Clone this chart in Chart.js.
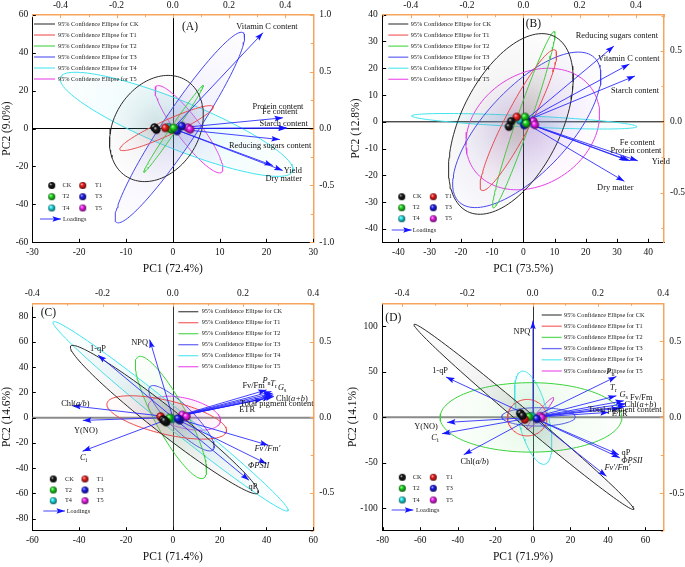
<!DOCTYPE html>
<html><head><meta charset="utf-8">
<script src="https://cdn.jsdelivr.net/npm/chart.js@4/dist/chart.umd.min.js"></script>
<style>
html,body{margin:0;padding:0;background:#fff;}
body{width:685px;height:567px;position:relative;overflow:hidden;}
canvas{position:absolute;}
</style></head><body>
<canvas id="cA" width="340" height="283" style="left:0px;top:0px"></canvas>
<canvas id="cB" width="345" height="283" style="left:340px;top:0px"></canvas>
<canvas id="cC" width="340" height="284" style="left:0px;top:283px"></canvas>
<canvas id="cD" width="345" height="284" style="left:340px;top:283px"></canvas>
<script>
// ======================= DATA =======================
const GROUPS = ['CK','T1','T2','T3','T4','T5'];

// ---- Panel A ----
const A_xTicks = [-30,-20,-10,0,10,20,30];
const A_yTicks = [-60,-40,-20,0,20,40,60];
const A_x2Ticks = [-0.5,-0.4,-0.3,-0.2,-0.1,0,0.1,0.2,0.3,0.4,0.5];
const A_x2Labels = [-0.4,-0.2,0,0.2,0.4];
const A_y2Ticks = [-1,-0.75,-0.5,-0.25,0,0.25,0.5,0.75,1];
const A_y2Labels = [-1,-0.5,0,0.5,1];
const A_scores = [
  [[-3.9,0.5],[-3.5,-0.6]],
  [[-1.6,0.3]],
  [[-0.3,-0.5],[0.2,0.3]],
  [[1.9,1.3],[0.9,-1.3]],
  [[-0.9,0.6]],
  [[3.2,0.4],[3.7,-0.4]]
];
// ellipse: [cx, cy, ax, ay, bx, by] (centre and two conjugate semi-axes, PC units)
const A_ellipses = [
  [-3.5,0,9.7,0,2.5,28],
  [-1.35,0.2,9.95,11.3,0.67,-3.6],
  [0.15,-0.2,6.35,22.9,0.53,-0.89],
  [1.5,0.5,13.5,50,3.02,-4.97],
  [0.8,2.2,24.8,-24.8,-1.89,-11.78],
  [3.45,-0.4,6.95,-22.7,2.04,3.82]
];
const A_loadNames = ['Vitamin C content','Protein content','Fe content','Starch content','Reducing sugars content','Yield','Dry matter'];
const A_loadX = [0.321,0.392,0.405,0.407,0.381,0.356,0.391];
const A_loadY = [0.842,0.094,0.006,0.002,-0.097,-0.325,-0.369];

// ---- Panel B ----
const B_xTicks = [-40,-30,-20,-10,0,10,20,30,40];
const B_yTicks = [-40,-30,-20,-10,0,10,20,30,40];
const B_x2Ticks = [-0.5,-0.4,-0.3,-0.2,-0.1,0,0.1,0.2,0.3,0.4,0.5];
const B_x2Labels = [-0.4,-0.2,0,0.2,0.4];
const B_y2Ticks = [-0.75,-0.5,-0.25,0,0.25,0.5,0.75];
const B_y2Labels = [-0.5,0,0.5];
const B_scores = [
  [[-3.9,0.2],[-4.6,-1.8]],
  [[-2.1,1.8]],
  [[0.5,1.8],[0.9,-0.6]],
  [[0.3,-1.2],[1.0,0.4]],
  [[-1.1,0.6]],
  [[3.2,0.2],[3.7,-1.1]]
];
const B_ellipses = [
  [-4,-0.8,13.9,32.7,14.3,-8.3],
  [-1.6,0.6,11.7,26.2,3.6,-2.18],
  [0.15,0.75,9.75,32.95,2.12,-0.85],
  [1.1,-3.0,21.6,27.0,9.8,-10.7],
  [0.3,0.2,36,-2.0,0.1,2.1],
  [3.0,-2.7,20.8,0,5.0,22.7]
];
const B_loadNames = ['Reducing sugars content','Vitamin C content','Starch content','Fe content','Protein content','Yield','Dry matter'];
const B_loadX = [0.322,0.377,0.397,0.370,0.379,0.407,0.359];
const B_loadY = [0.535,0.408,0.324,-0.272,-0.275,-0.275,-0.420];

// ---- Panel C ----
const C_xTicks = [-60,-40,-20,0,20,40,60];
const C_yTicks = [-80,-60,-40,-20,0,20,40,60,80];
const C_x2Ticks = [-0.4,-0.3,-0.2,-0.1,0,0.1,0.2,0.3,0.4];
const C_x2Labels = [-0.4,-0.2,0,0.2,0.4];
const C_y2Ticks = [-0.75,-0.5,-0.25,0,0.25,0.5,0.75];
const C_y2Labels = [-0.5,0,0.5];
const C_scores = [
  [[-4.2,-1.5],[-2.8,-3.5],[-3.5,-2.5]],
  [[-5.2,0.8]],
  [[-1.3,-0.3]],
  [[3.0,-2.0],[2.2,-0.8]],
  [[-0.3,-1.0]],
  [[4.1,2.1],[5.8,0.8]]
];
const C_ellipses = [
  [-3.6,-1.55,40,-58.2,-3.4,-8.1],
  [-2.6,0.15,25.5,-11.25,-1.67,-12.97],
  [-0.8,0.15,14,-48.05,-6.0,-6.0],
  [3.7,-0.5,13.5,-25,-3.6,-6.7],
  [-0.95,1.05,50.15,-74.75,-2.7,-6.2],
  [5.0,3.5,15.3,-7.0,-1.54,-11.5]
];
const C_loadNames = ['NPQ','1-qP','Chl(a/b)','Y(NO)','Ci','Fv/Fm','Pn','Tr','Gs','Chl(a+b)','Total pigment content','ETR',"Fv'/Fm'",'ΦPSII','qP'];
const C_loadX = [-0.066,-0.213,-0.286,-0.256,-0.257,0.267,0.281,0.284,0.286,0.288,0.279,0.257,0.272,0.267,0.217];
const C_loadY = [0.515,0.413,0.077,-0.020,-0.224,0.182,0.171,0.160,0.149,0.138,0.134,0.121,-0.184,-0.307,-0.416];

// ---- Panel D ----
const D_xTicks = [-80,-60,-40,-20,0,20,40,60];
const D_yTicks = [-100,-50,0,50,100];
const D_x2Ticks = [-0.4,-0.3,-0.2,-0.1,0,0.1,0.2,0.3,0.4];
const D_x2Labels = [-0.4,-0.2,0,0.2,0.4];
const D_y2Ticks = [-0.75,-0.5,-0.25,0,0.25,0.5,0.75];
const D_y2Labels = [-0.5,0,0.5];
const D_scores = [
  [[-6.7,4.2],[-5.5,1.5]],
  [[-4.3,-2.5]],
  [[-2.0,0.5]],
  [[2.1,-1.8]],
  [[-0.5,1.1]],
  [[3.9,1.1],[4.8,-0.7]]
];
const D_ellipses = [
  [-4.8,0.4,58.5,-101.5,-2.4,-5.9],
  [-3.0,-0.5,10.5,0,0,20],
  [-1.0,-0.2,48.4,0,0,38.1],
  [3.0,0.4,19.6,0,0,10.1],
  [0.2,-0.55,8.3,0,-5.5,51.15],
  [3.9,4.05,7.1,17.35,1.23,-2.1]
];
const D_loadNames = ['NPQ','1-qP','Y(NO)','Ci','Chl(a/b)','Pn','Tr','Gs','Fv/Fm','Chl(a+b)','Total pigment content','ETR','qP','ΦPSII',"Fv'/Fm'"];
const D_loadX = [0.001,-0.265,-0.262,-0.2775,-0.211,0.2565,0.2565,0.279,0.285,0.285,0.267,0.233,0.264,0.267,0.226];
const D_loadY = [0.636,0.265,-0.033,-0.107,-0.245,0.269,0.142,0.109,0.090,0.073,0.060,0.033,-0.245,-0.266,-0.387];

// ======================= STYLE / LAYOUT =======================
const FONT = '"Liberation Serif", "Times New Roman", serif';
const ORANGE = '#f6a55e';
const ARROW = 'rgba(35,35,255,0.85)';
const ARROW_HEAD = '#1515ff';
const LINE_COLORS = ['#2a2a2a','#f04848','#3ad23a','#4646f0','#40e4ee','#e83ce8'];
const FILL_RGB = [[120,120,130],[235,130,130],[120,220,120],[140,130,245],[90,220,230],[230,120,230]];
const BALL_RGB = [[25,25,25],[250,30,30],[30,225,30],[30,30,250],[30,235,240],[250,30,250]];

const A_labelOffsets = [[4,-6],[-5,-11],[-6.7,-15.6],[-3.5,-4.8],[-9.7,6],[20,5],[1,8]];
const B_labelOffsets = [[3,-10],[-0.6,-5.7],[0,15],[10,-18],[6,-10],[23,0.7],[-9,6.6]];
const C_labelOffsets = [[-10,3],[0,-6],[3,-2],[3,10],[1,7],[-13,-4],[-5,-11],[1,-9],[9,-7],[18,2],[6,7],[-16,11],[-1,4],[-8,2],[4,7]];
const D_labelOffsets = [[-11,11],[-6,-6],[-21,4],[-7,4],[11,7],[-6,-5],[-3,-8],[0,-6],[15.5,-5.7],[14.7,-1.5],[5,1.5],[11,1.6],[7,-2],[12,3],[11,-8]];

const RICH = {
  'Ci': [['C','i'],['i','s']],
  'Pn': [['P','i'],['n','s']],
  'Tr': [['T','i'],['r','s']],
  'Gs': [['G','i'],['s','s']],
  "Fv'/Fm'": [["Fv'/Fm'",'i']],
  'ΦPSII': [['ΦPSII','i']],
  'Chl(a+b)': [['Chl(',''],['a+b','i'],[')','']],
  'Chl(a/b)': [['Chl(',''],['a/b','i'],[')','']]
};

function rgba(c,a){return 'rgba('+c[0]+','+c[1]+','+c[2]+','+a+')';}
function makeBall(c, r){
  const cv=document.createElement('canvas'); const s=Math.ceil(r*2)+2; cv.width=cv.height=s;
  const g=cv.getContext('2d'); const m=s/2;
  const hi=[Math.round(c[0]+(255-c[0])*0.85),Math.round(c[1]+(255-c[1])*0.85),Math.round(c[2]+(255-c[2])*0.85)];
  const gr=g.createRadialGradient(m-r*0.35,m-r*0.4,r*0.05,m,m,r);
  gr.addColorStop(0,rgba(hi,1)); gr.addColorStop(0.35,rgba(c,1));
  gr.addColorStop(1,rgba([Math.round(c[0]*0.35),Math.round(c[1]*0.35),Math.round(c[2]*0.35)],1));
  g.fillStyle=gr; g.beginPath(); g.arc(m,m,r,0,Math.PI*2); g.fill();
  return cv;
}
const BALLS = BALL_RGB.map(c=>makeBall(c,4.2));
const BALLS_SMALL = BALL_RGB.map(c=>makeBall(c,3.5));

function ellipsePoints(e){
  const [cx,cy,ax,ay,bx,by]=e; const pts=[];
  for(let k=0;k<=120;k++){const t=k/120*2*Math.PI; pts.push({x:cx+ax*Math.cos(t)+bx*Math.sin(t), y:cy+ay*Math.cos(t)+by*Math.sin(t)});}
  return pts;
}
function ellipseFill(ctx,e,g){
  const ch=ctx.chart;
  if(!ch.chartArea || !ch.scales.x) return 'rgba(0,0,0,0)';
  const sx=ch.scales.x, sy=ch.scales.y;
  const px=sx.getPixelForValue(e[0]), py=sy.getPixelForValue(e[1]);
  const ex=sx.getPixelForValue(e[0]+e[2])-px, ey=sy.getPixelForValue(e[1]+e[3])-py;
  const fx=sx.getPixelForValue(e[0]+e[4])-px, fy=sy.getPixelForValue(e[1]+e[5])-py;
  const R=Math.max(Math.hypot(ex,ey),Math.hypot(fx,fy),1);
  const gr=ch.ctx.createRadialGradient(px,py,0,px,py,R);
  gr.addColorStop(0,rgba(FILL_RGB[g],0.2)); gr.addColorStop(0.5,rgba(FILL_RGB[g],0.07)); gr.addColorStop(1,rgba(FILL_RGB[g],0.015));
  return gr;
}
function fmt1(v){const r=Math.round(v*10)/10; return (Math.abs(r)<1e-9?0:r).toFixed(1);}
function inList(v,list){return list.some(u=>Math.abs(u-v)<1e-6);}

function drawRich(ctx,text,x,y,size){
  const segs=RICH[text]||[[text,'']];
  const fonts=segs.map(s=>(s[1].includes('i')?'italic ':'')+(s[1].includes('s')?(size*0.72).toFixed(2):size)+'px '+FONT);
  let total=0; const ws=segs.map((s,k)=>{ctx.font=fonts[k]; const w=ctx.measureText(s[0]).width; total+=w; return w;});
  let cx=x-total/2; ctx.textBaseline='middle'; ctx.textAlign='left'; ctx.fillStyle='#111';
  segs.forEach((s,k)=>{ctx.font=fonts[k]; ctx.fillText(s[0],cx,y+(s[1].includes('s')?size*0.32:0)); cx+=ws[k];});
}
function drawArrowHead(ctx,x0,y0,x1,y1,L,W){
  const dx=x1-x0, dy=y1-y0, len=Math.hypot(dx,dy); if(len<0.5) return;
  const ux=dx/len, uy=dy/len;
  ctx.beginPath(); ctx.moveTo(x1,y1);
  ctx.lineTo(x1-ux*L-uy*W, y1-uy*L+ux*W);
  ctx.lineTo(x1-ux*L*0.82, y1-uy*L*0.82);
  ctx.lineTo(x1-ux*L+uy*W, y1-uy*L-ux*W);
  ctx.closePath(); ctx.fill();
}

const PANELS = [
  {id:'cA', letter:'(A)', letterPos:[190,27], xTitle:'PC1 (72.4%)', yTitle:'PC2 (9.0%)',
   xRange:[-30,30], yRange:[-60,60], x2Range:[-0.5,0.5], y2Range:[-1,1],
   xTicks:A_xTicks, yTicks:A_yTicks, x2Ticks:A_x2Ticks, x2Labels:A_x2Labels, y2Ticks:A_y2Ticks, y2Labels:A_y2Labels,
   scores:A_scores, ellipses:A_ellipses, loadNames:A_loadNames, loadX:A_loadX, loadY:A_loadY, offsets:A_labelOffsets,
   area:{l:32.3,r:313.3,t:14.7,b:242.3}, yTitlePad:0, xTitlePad:6.8, leftPad:4,
   zeroH:['#000',1], zeroV:['#000',1],
   eLeg:{x0:34,x1:55,tx:58,y0:24,dy:11}, bLeg:{c1b:51.7,c1t:62.5,c2b:82.7,c2t:95,rows:[185.5,196.7,208],ax0:40,ax1:61,ay:219,at:63}},
  {id:'cB', letter:'(B)', letterPos:[193.3,24], xTitle:'PC1 (73.5%)', yTitle:'PC2 (12.8%)',
   xRange:[-45,45], yRange:[-45,40], x2Range:[-0.5,0.5], y2Range:[-0.85,0.756],
   xTicks:B_xTicks, yTicks:B_yTicks, x2Ticks:B_x2Ticks, x2Labels:B_x2Labels, y2Ticks:B_y2Ticks, y2Labels:B_y2Labels,
   scores:B_scores, ellipses:B_ellipses, loadNames:B_loadNames, loadX:B_loadX, loadY:B_loadY, offsets:B_labelOffsets,
   area:{l:42.7,r:324,t:14.7,b:242.3}, yTitlePad:8.8, xTitlePad:6.8, leftPad:5,
   zeroH:['#000',1], zeroV:['#000',1],
   eLeg:{x0:48.3,x1:68.3,tx:70.7,y0:24,dy:11.06}, bLeg:{c1b:61.7,c1t:72.7,c2b:93.3,c2t:105,rows:[196.7,207.7,218.7],ax0:51.7,ax1:71.7,ay:230,at:72.7}},
  {id:'cC', letter:'(C)', letterPos:[48.3,30.3], xTitle:'PC1 (71.4%)', yTitle:'PC2 (14.6%)',
   xRange:[-60,60], yRange:[-89.5,90.5], x2Range:[-0.4,0.4], y2Range:[-0.75,0.755],
   xTicks:C_xTicks, yTicks:C_yTicks, x2Ticks:C_x2Ticks, x2Labels:C_x2Labels, y2Ticks:C_y2Ticks, y2Labels:C_y2Labels,
   scores:C_scores, ellipses:C_ellipses, loadNames:C_loadNames, loadX:C_loadX, loadY:C_loadY, offsets:C_labelOffsets,
   area:{l:32.3,r:313.3,t:20.3,b:247.7}, yTitlePad:0, xTitlePad:3.1, leftPad:4,
   zeroH:['#8a8a8a',2], zeroV:['#333',1],
   eLeg:{x0:178.3,x1:198.3,tx:201.7,y0:28.7,dy:11}, bLeg:{c1b:53.3,c1t:65,c2b:85,c2t:96.7,rows:[196,207,217.7],ax0:43.3,ax1:65,ay:228,at:66.7}},
  {id:'cD', letter:'(D)', letterPos:[53.3,34.7], xTitle:'PC1 (71.9%)', yTitle:'PC2 (14.1%)',
   xRange:[-80,69.5], yRange:[-124.5,125], x2Range:[-0.459,0.4], y2Range:[-0.745,0.75],
   xTicks:D_xTicks, yTicks:D_yTicks, x2Ticks:D_x2Ticks, x2Labels:D_x2Labels, y2Ticks:D_y2Ticks, y2Labels:D_y2Labels,
   scores:D_scores, ellipses:D_ellipses, loadNames:D_loadNames, loadX:D_loadX, loadY:D_loadY, offsets:D_labelOffsets,
   area:{l:42.7,r:323.3,t:20.3,b:247.7}, yTitlePad:6.1, xTitlePad:3.1, leftPad:5,
   zeroH:['#8a8a8a',2], zeroV:['#333',1],
   eLeg:{x0:201.7,x1:221.7,tx:224,y0:32,dy:11.2}, bLeg:{c1b:62.3,c1t:72.7,c2b:93.3,c2t:106,rows:[194.3,205.3,217],ax0:51.7,ax1:73.3,ay:227,at:76}}
];

// ======================= PLUGINS =======================
const zeroLines = {id:'zeroLines', beforeDatasetsDraw(chart){
  const P=chart.config.options.panel; const ctx=chart.ctx, ca=chart.chartArea;
  const y0=chart.scales.y.getPixelForValue(0), x0=chart.scales.x.getPixelForValue(0);
  ctx.save();
  ctx.strokeStyle=P.zeroH[0]; ctx.lineWidth=P.zeroH[1];
  ctx.beginPath(); ctx.moveTo(ca.left,y0); ctx.lineTo(ca.right,y0); ctx.stroke();
  ctx.strokeStyle=P.zeroV[0]; ctx.lineWidth=P.zeroV[1];
  ctx.beginPath(); ctx.moveTo(Math.round(x0)+0.5,ca.top); ctx.lineTo(Math.round(x0)+0.5,ca.bottom); ctx.stroke();
  ctx.restore();
}};
const arrowHeads = {id:'arrowHeads', afterDatasetDraw(chart,args){
  const ds=chart.data.datasets[args.index]; if(!ds.isArrow) return;
  const pts=args.meta.data; const a=pts[0], b=pts[pts.length-1];
  const ctx=chart.ctx; ctx.save(); ctx.fillStyle=ARROW_HEAD; drawArrowHead(ctx,a.x,a.y,b.x,b.y,8.5,2.8); ctx.restore();
}};
const loadLabels = {id:'loadLabels', afterDatasetsDraw(chart){
  const P=chart.config.options.panel; const ctx=chart.ctx;
  const sx=chart.scales.x2, sy=chart.scales.y2;
  ctx.save();
  P.loadNames.forEach((n,i)=>{
    const px=sx.getPixelForValue(P.loadX[i]), py=sy.getPixelForValue(P.loadY[i]);
    drawRich(ctx,n,px+P.offsets[i][0],py+P.offsets[i][1],8.4);
  });
  ctx.restore();
}};
const tickMarks = {id:'tickMarks', afterDatasetsDraw(chart){
  const ctx=chart.ctx, ca=chart.chartArea;
  ['x','y','x2','y2'].forEach(id=>{
    const s=chart.scales[id]; const sec=id.length>1;
    ctx.save(); ctx.strokeStyle=sec?ORANGE:'#000'; ctx.lineWidth=1;
    s.ticks.forEach(t=>{
      const L=(t.label===''||t.label===undefined)?2.5:3.5;
      const p=Math.round(s.getPixelForValue(t.value))+0.5;
      ctx.beginPath();
      if(s.position==='bottom'){ctx.moveTo(p,ca.bottom);ctx.lineTo(p,ca.bottom-L);}
      else if(s.position==='top'){ctx.moveTo(p,ca.top);ctx.lineTo(p,ca.top+L);}
      else if(s.position==='left'){ctx.moveTo(ca.left,p);ctx.lineTo(ca.left+L,p);}
      else {ctx.moveTo(ca.right,p);ctx.lineTo(ca.right-L,p);}
      ctx.stroke();
    });
    ctx.restore();
  });
}};
const legends = {id:'legends', afterDraw(chart){
  const P=chart.config.options.panel; const ctx=chart.ctx;
  ctx.save();
  ctx.fillStyle='#111'; ctx.font='11.5px '+FONT; ctx.textAlign='center'; ctx.textBaseline='middle';
  ctx.fillText(P.letter,P.letterPos[0],P.letterPos[1]);
  const E=P.eLeg;
  GROUPS.forEach((g,k)=>{
    const y=E.y0+k*E.dy;
    ctx.strokeStyle=LINE_COLORS[k]; ctx.globalAlpha=0.8; ctx.lineWidth=1.3;
    ctx.beginPath(); ctx.moveTo(E.x0,y); ctx.lineTo(E.x1,y); ctx.stroke();
    ctx.globalAlpha=1; ctx.fillStyle='#222'; ctx.font='6.3px '+FONT; ctx.textAlign='left'; ctx.textBaseline='middle';
    ctx.fillText('95% Confidence Ellipse for '+g,E.tx,y);
  });
  const Bl=P.bLeg;
  GROUPS.forEach((g,k)=>{
    const row=Math.floor(k/2), col=k%2;
    const bx=col?Bl.c2b:Bl.c1b, tx=col?Bl.c2t:Bl.c1t, y=Bl.rows[row];
    const im=BALLS_SMALL[k]; ctx.drawImage(im,bx-im.width/2,y-im.height/2);
    ctx.fillStyle='#222'; ctx.font='6.3px '+FONT; ctx.textAlign='left'; ctx.textBaseline='middle';
    ctx.fillText(g,tx,y);
  });
  ctx.strokeStyle=ARROW; ctx.lineWidth=1;
  ctx.beginPath(); ctx.moveTo(Bl.ax0,Bl.ay); ctx.lineTo(Bl.ax1,Bl.ay); ctx.stroke();
  ctx.fillStyle=ARROW_HEAD; drawArrowHead(ctx,Bl.ax0,Bl.ay,Bl.ax1,Bl.ay,8.5,2.8);
  ctx.fillStyle='#222'; ctx.font='6.3px '+FONT; ctx.textAlign='left'; ctx.textBaseline='middle';
  ctx.fillText('Loadings',Bl.at,Bl.ay);
  ctx.restore();
}};

// ======================= BUILD =======================
function scaleCfg(pos,range,ticksArr,labelsArr,fit,secondary,title,titlePad,tickPad){
  const horizontal=(pos==='top'||pos==='bottom');
  return {
    type:'linear', position:pos, min:range[0], max:range[1],
    grid:{display:false, drawTicks:false},
    border:{display:true, color:secondary?ORANGE:'#000', width:secondary?1.5:1},
    ticks:{autoSkip:false, maxRotation:0, minRotation:0, padding:tickPad, color:'#111',
      font:{family:FONT,size:9.5},
      callback:(v)=> labelsArr ? (inList(v,labelsArr)?fmt1(v):'') : String(Math.round(v))},
    afterBuildTicks:(s)=>{ s.ticks=ticksArr.map(v=>({value:v})); },
    afterFit:(s)=>{ if(horizontal) s.height=fit; else s.width=fit; },
    title: title ? {display:true, text:title, color:'#111', font:{family:FONT,size:11.5}, padding:titlePad} : {display:false}
  };
}

function makePanel(P){
  const cv=document.getElementById(P.id);
  const W=cv.width, H=cv.height, A=P.area;
  const datasets=[];
  P.scores.forEach((pts,g)=>{
    datasets.push({label:GROUPS[g], data:pts.map(p=>({x:p[0],y:p[1]})), xAxisID:'x', yAxisID:'y',
      showLine:false, pointStyle:BALLS[g], pointRadius:4.2, order:0});
  });
  P.loadNames.forEach((n,i)=>{
    datasets.push({label:n, isArrow:true, data:[{x:0,y:0},{x:P.loadX[i],y:P.loadY[i]}], xAxisID:'x2', yAxisID:'y2',
      showLine:true, borderColor:ARROW, borderWidth:1, pointRadius:0, fill:false, order:1});
  });
  P.ellipses.forEach((e,g)=>{
    datasets.push({label:'95% Confidence Ellipse for '+GROUPS[g], data:ellipsePoints(e), xAxisID:'x', yAxisID:'y',
      showLine:true, borderColor:LINE_COLORS[g], borderWidth:1, pointRadius:0, tension:0,
      fill:'shape', backgroundColor:(ctx)=>ellipseFill(ctx,e,g), order:2});
  });
  new Chart(cv,{
    type:'scatter',
    data:{datasets},
    options:{
      panel:P,
      responsive:false, devicePixelRatio:1, animation:false, events:[],
      layout:{padding:0, autoPadding:false},
      plugins:{legend:{display:false}, tooltip:{enabled:false}},
      scales:{
        x: scaleCfg('bottom',P.xRange,P.xTicks,null,H-A.b,false,P.xTitle,{top:0,bottom:P.xTitlePad},4),
        y: scaleCfg('left',P.yRange,P.yTicks,null,A.l,false,P.yTitle,{top:P.yTitlePad,bottom:0},P.leftPad),
        x2: scaleCfg('top',P.x2Range,P.x2Ticks,P.x2Labels,A.t,true,null,null,4),
        y2: scaleCfg('right',P.y2Range,P.y2Ticks,P.y2Labels,W-A.r,true,null,null,6)
      }
    },
    plugins:[zeroLines,arrowHeads,loadLabels,tickMarks,legends]
  });
}
PANELS.forEach(makePanel);
</script>
</body></html>
